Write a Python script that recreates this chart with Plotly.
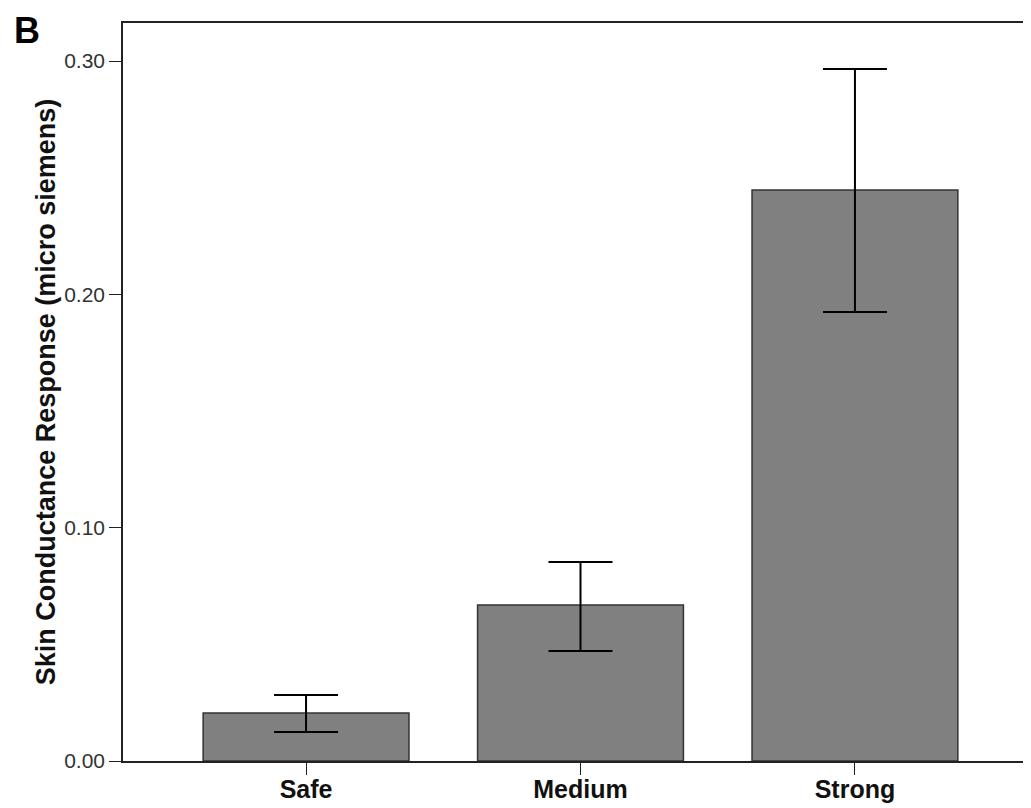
import plotly.graph_objects as go

categories = ["Safe", "Medium", "Strong"]
means = [0.0206, 0.0669, 0.2447]
upper = [0.0283, 0.0853, 0.2966]
lower = [0.0124, 0.0471, 0.1924]
yticks = [0.0, 0.1, 0.2, 0.3]
ytick_labels = ["0.00", "0.10", "0.20", "0.30"]

err_plus = [u - m for u, m in zip(upper, means)]
err_minus = [m - l for m, l in zip(means, lower)]

fig = go.Figure()
fig.add_trace(go.Bar(
    x=list(range(len(categories))),
    y=means,
    width=0.75,
    marker=dict(color="#808080", line=dict(color="#333333", width=1.5)),
    error_y=dict(type="data", symmetric=False, array=err_plus, arrayminus=err_minus,
                 color="#000000", thickness=2, width=32),
    showlegend=False,
))

fig.update_layout(
    width=1031, height=808,
    margin=dict(l=115, r=1, t=15, b=55),
    paper_bgcolor="white", plot_bgcolor="white",
    font=dict(family="Liberation Sans, Arial, sans-serif", color="#222222"),
    xaxis=dict(
        range=[-0.667, 2.667],
        tickmode="array", tickvals=list(range(len(categories))),
        ticktext=["<b>%s</b>" % c for c in categories],
        tickfont=dict(size=25, color="#111111"),
        ticks="outside", ticklen=12, tickcolor="#222222", tickwidth=1.2,
        ticklabelstandoff=-7,
        showline=True, linecolor="#222222", linewidth=1.5, mirror=True,
        showgrid=False, zeroline=False,
    ),
    yaxis=dict(
        range=[0, 0.3163],
        tickmode="array", tickvals=yticks, ticktext=ytick_labels,
        tickfont=dict(size=21, color="#333333"),
        ticks="outside", ticklen=12, tickcolor="#222222", tickwidth=1.2,
        showline=True, linecolor="#222222", linewidth=1.5,
        showgrid=False, zeroline=False,
        title=dict(text="<b>Skin Conductance Response (micro siemens)</b>",
                   font=dict(size=27, color="#111111"), standoff=1),
    ),
)
fig.add_annotation(text="<b>B</b>", x=0, y=1, xref="paper", yref="paper",
                   xanchor="left", yanchor="top", showarrow=False,
                   xshift=-111, yshift=15, font=dict(size=36, color="#000000"))

fig.write_html("out.html")
